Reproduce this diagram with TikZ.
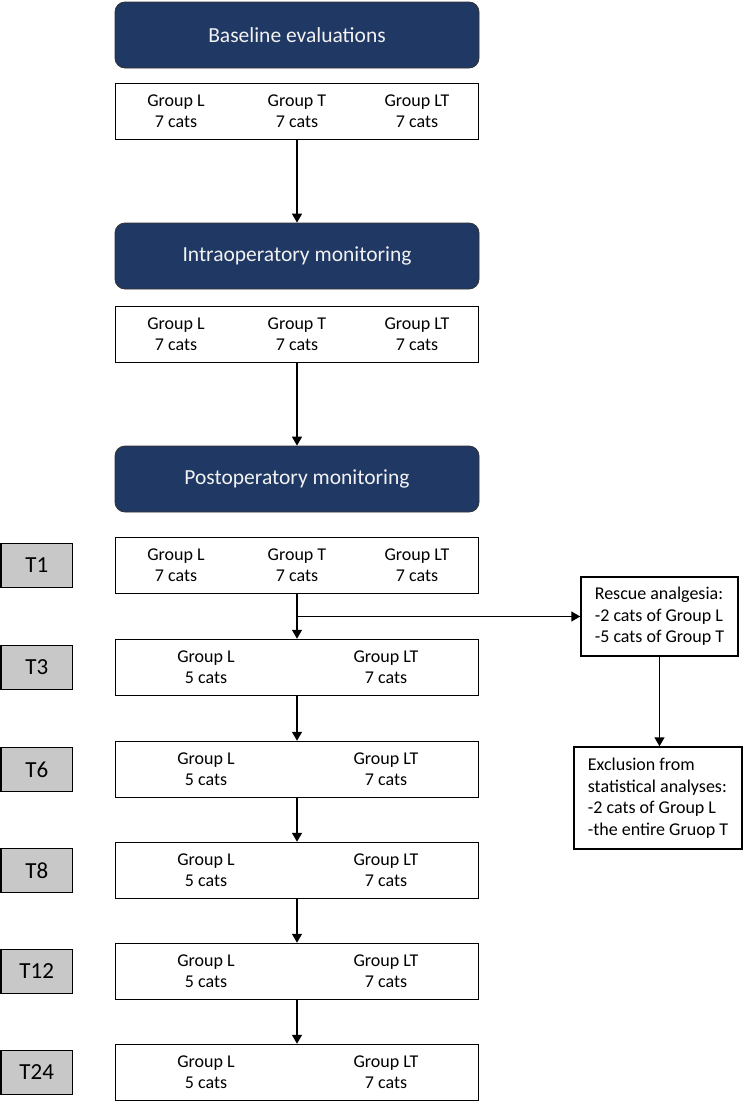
\documentclass[tikz,border=0pt]{standalone}
\usepackage{fontspec}
\setmainfont{Carlito}
\usetikzlibrary{arrows.meta,positioning,calc}
\definecolor{hdrblue}{RGB}{32,56,100}
\definecolor{hdrtext}{RGB}{242,242,242}
\definecolor{tgray}{RGB}{200,200,200}
\tikzset{
  hdr/.style={draw=black!80, line width=0.8pt, fill=hdrblue, rounded corners=10pt,
    minimum width=364pt, minimum height=66pt, inner sep=0pt,
    text=hdrtext, font=\fontsize{21.5pt}{25pt}\selectfont},
  grpbox/.style={draw=black, line width=1.5pt, minimum width=363pt, minimum height=56pt, inner sep=0pt},
  tbox/.style={draw=black, line width=1.5pt, fill=tgray, minimum width=71.5pt, minimum height=44pt,
    inner sep=0pt, font=\fontsize{23pt}{27pt}\selectfont},
  grp/.style={align=center, inner sep=0pt, font=\fontsize{18pt}{21pt}\selectfont},
  sidebox/.style={draw=black, line width=1.5pt, align=left, inner sep=0pt,
    font=\fontsize{18pt}{21.5pt}\selectfont},
  conn/.style={line width=1.5pt, -{Triangle[width=10pt,length=9pt]}},
  plain/.style={line width=1.5pt}
}
\begin{document}
\begin{tikzpicture}[x=1pt,y=-1pt]
\useasboundingbox (0,0) rectangle (744,1103);
% headers
\node[hdr] (h1) at (297,35) {Baseline evaluations};
\node[hdr] (h2) at (297,256) {Intraoperatory monitoring};
\node[hdr] (h3) at (297,479) {Postoperatory monitoring};
% three-group boxes
\node[grpbox] (b1) at (297,111.5) {};
\node[grp] (b1l) at (176,111.5) {Group L\\7 cats};
\node[grp] (b1t) at (297,111.5) {Group T\\7 cats};
\node[grp] (b1lt) at (417,111.5) {Group LT\\7 cats};
\node[grpbox] (b2) at (297,334.5) {};
\node[grp] (b2l) at (176,334.5) {Group L\\7 cats};
\node[grp] (b2t) at (297,334.5) {Group T\\7 cats};
\node[grp] (b2lt) at (417,334.5) {Group LT\\7 cats};
\node[grpbox] (r1) at (297,565.5) {};
\node[grp] (r1l) at (176,565.5) {Group L\\7 cats};
\node[grp] (r1t) at (297,565.5) {Group T\\7 cats};
\node[grp] (r1lt) at (417,565.5) {Group LT\\7 cats};
\node[tbox] (t1) at (36.75,565.5) {T1};
% two-group rows
\foreach \nm/\lab/\yy in {r3/T3/667.5, r6/T6/769.5, r8/T8/870.5, r12/T12/971.5, r24/T24/1072.5}{
  \node[grpbox] (\nm) at (297,\yy) {};
  \node[grp] (\nm l) at (206,\yy) {Group L\\5 cats};
  \node[grp] (\nm lt) at (386,\yy) {Group LT\\7 cats};
  \node[tbox] (t\nm) at (36.75,\yy) {\lab};
}
% side boxes
\node[sidebox, minimum width=157pt, minimum height=79pt] (rescue) at (659.5,616.5)
  {Rescue analgesia:\\-2 cats of Group L\\-5 cats of Group T};
\node[sidebox, minimum width=168pt, minimum height=102pt] (excl) at (658,798)
  {Exclusion from\\statistical analyses:\\-2 cats of Group L\\-the entire Gruop T};
% connectors
\draw[conn] (b1.south) -- (h2.north);
\draw[conn] (b2.south) -- (h3.north);
\draw[conn] (r1.south) -- (r3.north);
\coordinate (br) at (r1.south |- rescue.west);
\draw[conn] (br) -- (rescue.west);
\draw[conn] (r3.south) -- (r6.north);
\draw[conn] (r6.south) -- (r8.north);
\draw[conn] (r8.south) -- (r12.north);
\draw[conn] (r12.south) -- (r24.north);
\draw[conn] (rescue.south) -- (rescue.south |- excl.north);
\end{tikzpicture}
\end{document}
